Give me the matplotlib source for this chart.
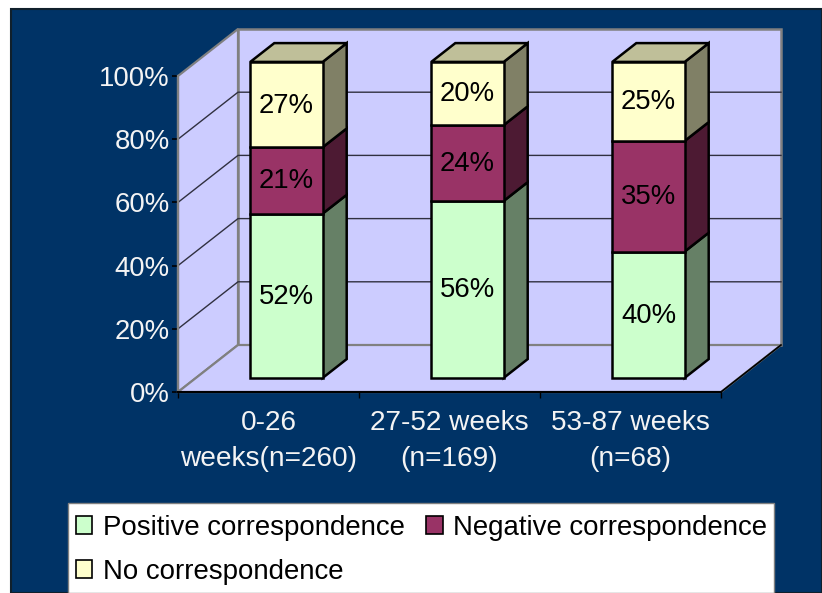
import matplotlib
matplotlib.use("Agg")
import matplotlib.pyplot as plt
from matplotlib.patches import Polygon, Rectangle

plt.rcParams['font.family'] = ['Liberation Sans', 'DejaVu Sans']

categories = ['0-26\nweeks(n=260)', '27-52 weeks\n(n=169)', '53-87 weeks\n(n=68)']
positive = [52, 56, 40]
negative = [21, 24, 35]
no_corr = [27, 20, 25]
series_names = ['Positive correspondence', 'Negative correspondence', 'No correspondence']
y_ticks = [0, 20, 40, 60, 80, 100]

NAVY = '#003366'
WALL = '#CCCCFF'
GREY = '#808080'
front_colors = ['#CCFFCC', '#993366', '#FFFFCC']
side_colors = ['#668066', '#4D1A33', '#808066']
top_color = '#BFBF99'

# depth of the 3d box, in axis units
DX = 60 / 181
DY = 47 / 3.16
BAR_W = 0.4
D0, D1 = 0.3, 0.7


def proj(x, y, d):
    return (x + d * DX, y + d * DY)


def face(ax, pts, color, ec='black', lw=1.8, z=3):
    ax.add_patch(Polygon([proj(*p) for p in pts], closed=True, facecolor=color,
                         edgecolor=ec, linewidth=lw, joinstyle='miter',
                         clip_on=False, zorder=z))


fig = plt.figure(figsize=(8.22, 5.93), dpi=100, facecolor='white')
fig.add_artist(Rectangle((11 / 822, 0), 811 / 822, 584 / 593, transform=fig.transFigure,
                         facecolor=NAVY, edgecolor='#10202c', linewidth=1.5, zorder=-2))
# legend box
fig.add_artist(Rectangle((67.5 / 822, 0.5 / 593), 706.5 / 822, 89.5 / 593, transform=fig.transFigure,
                         facecolor='white', edgecolor=GREY, linewidth=1.0, zorder=-1))

ax = fig.add_axes([178 / 822, 201 / 593, 543 / 822, 316 / 593])
ax.set_xlim(0, 3)
ax.set_ylim(0, 100)
ax.patch.set_alpha(0)

# walls and floor
face(ax, [(0, 0, 0), (0, 100, 0), (0, 100, 1), (0, 0, 1)], WALL, GREY, 1.6, 1)
face(ax, [(0, 0, 1), (0, 100, 1), (3, 100, 1), (3, 0, 1)], WALL, GREY, 1.8, 1)
face(ax, [(0, 0, 0), (0, 0, 1), (3, 0, 1), (3, 0, 0)], WALL, GREY, 1.6, 1)
ax.plot(*zip(proj(3, 0, 0), proj(3, 0, 1)), color='black', lw=1.2, clip_on=False, zorder=2)

for t in y_ticks[1:-1]:
    ax.plot(*zip(proj(0, t, 0), proj(0, t, 1), proj(3, t, 1)), color='#303040', lw=1.0,
            clip_on=False, zorder=2)

# stacked bars
for i in range(len(categories)):
    x0 = i + 0.5 - BAR_W / 2
    x1 = i + 0.5 + BAR_W / 2
    base = 0
    vals = [positive[i], negative[i], no_corr[i]]
    for v, fc, sc in zip(vals, front_colors, side_colors):
        top = base + v
        face(ax, [(x1, base, D0), (x1, top, D0), (x1, top, D1), (x1, base, D1)], sc)
        face(ax, [(x0, base, D0), (x0, top, D0), (x1, top, D0), (x1, base, D0)], fc, z=4)
        fx, fy = proj(i + 0.5, base + v / 2, D0)
        ax.text(fx, fy - 0.3, '%d%%' % v, ha='center', va='center', fontsize=19.8, color='black', zorder=5)
        base = top
    face(ax, [(x0, base, D0), (x0, base, D1), (x1, base, D1), (x1, base, D0)], top_color)

# axes
for s in ['top', 'right']:
    ax.spines[s].set_visible(False)
ax.spines['left'].set_color(GREY)
ax.spines['left'].set_linewidth(1.6)
ax.spines['bottom'].set_color('black')
ax.spines['bottom'].set_linewidth(1.5)
ax.spines['left'].set_zorder(2)
ax.spines['bottom'].set_zorder(2)

ax.set_yticks(y_ticks)
ax.set_yticklabels(['%d%%' % t for t in y_ticks])
ax.tick_params(axis='y', colors='black', labelcolor='#F4F4F4', labelsize=19.8, length=4.5,
               width=1.2, pad=1.5)
ax.set_xticks([0, 1, 2, 3])
ax.set_xticklabels([])
ax.set_xticks([0.5, 1.5, 2.5], minor=True)
ax.set_xticklabels(categories, minor=True)
ax.tick_params(axis='x', which='major', colors='black', length=4.5, width=1.0)
ax.tick_params(axis='x', which='minor', length=0, labelcolor='#F4F4F4', labelsize=20.2, pad=13.2)
for lab in ax.get_xticklabels(minor=True):
    lab.set_linespacing(1.5)

# legend
handles = [Rectangle((0, 0), 1, 1, facecolor=c, edgecolor='black', linewidth=1.2) for c in front_colors]
order = [0, 2, 1]
leg = fig.legend([handles[j] for j in order], [series_names[j] for j in order],
                 ncol=2, loc='lower left', bbox_to_anchor=(67.5 / 822, 0),
                 fontsize=19.9, frameon=False, borderaxespad=0, borderpad=0.3,
                 handlelength=0.6, handleheight=0.6, handletextpad=0.38,
                 labelspacing=0.65, columnspacing=0.78)

fig.savefig('out.png', dpi=100, facecolor='white')
